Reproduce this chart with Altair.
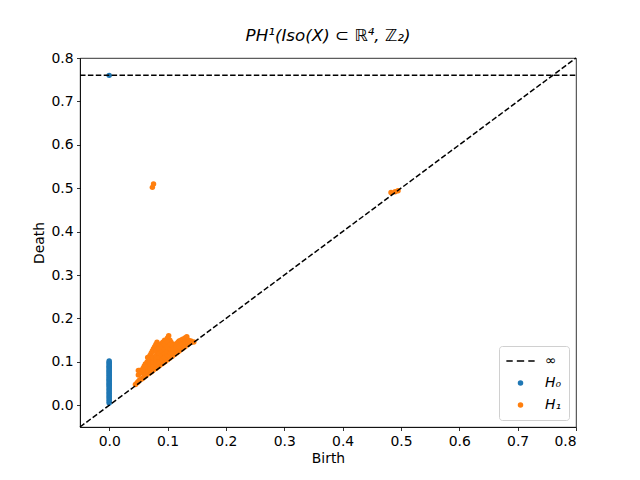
import altair as alt
import pandas as pd

# H0 persistence pairs
h0_birth = [0.0] * 32
h0_death = [0.005, 0.009, 0.013, 0.017, 0.020, 0.024, 0.028, 0.031, 0.035, 0.038,
            0.042, 0.045, 0.048, 0.051, 0.054, 0.057, 0.060, 0.063, 0.066, 0.069,
            0.072, 0.075, 0.078, 0.081, 0.084, 0.087, 0.090, 0.093, 0.096, 0.099,
            0.102, 0.760]

# H1 persistence pairs
h1_birth = [0.045, 0.048, 0.050, 0.052, 0.055, 0.058, 0.060, 0.063, 0.066, 0.070,
            0.073, 0.076, 0.080, 0.083, 0.086, 0.090, 0.093, 0.096, 0.100, 0.104,
            0.108, 0.112, 0.116, 0.120, 0.125, 0.130, 0.135, 0.140,
            0.050, 0.052, 0.055, 0.058, 0.060, 0.062, 0.065, 0.066, 0.068, 0.070,
            0.072, 0.074, 0.076, 0.078, 0.080, 0.082, 0.085, 0.088, 0.090, 0.092,
            0.095, 0.098, 0.100, 0.102, 0.104, 0.106, 0.110, 0.115, 0.118, 0.120,
            0.123, 0.126, 0.130, 0.133, 0.136, 0.140, 0.145,
            0.060, 0.065, 0.065, 0.070, 0.070, 0.070, 0.075, 0.075, 0.075, 0.080,
            0.080, 0.080, 0.080, 0.085, 0.085, 0.085, 0.085, 0.090, 0.090, 0.090,
            0.090, 0.095, 0.095, 0.095, 0.095, 0.100, 0.100, 0.100, 0.100, 0.105,
            0.105, 0.105, 0.110, 0.110, 0.115, 0.115, 0.120, 0.125, 0.130, 0.135,
            0.050, 0.054, 0.058, 0.062,
            0.074, 0.076, 0.483, 0.490, 0.495]
h1_death = [0.048, 0.052, 0.055, 0.058, 0.060, 0.063, 0.066, 0.068, 0.072, 0.075,
            0.078, 0.082, 0.085, 0.088, 0.091, 0.095, 0.098, 0.101, 0.105, 0.109,
            0.113, 0.117, 0.121, 0.125, 0.130, 0.135, 0.140, 0.145,
            0.070, 0.080, 0.075, 0.085, 0.090, 0.095, 0.100, 0.110, 0.105, 0.115,
            0.120, 0.125, 0.130, 0.135, 0.140, 0.145, 0.138, 0.140, 0.142, 0.145,
            0.150, 0.148, 0.155, 0.160, 0.150, 0.145, 0.140, 0.142, 0.145, 0.148,
            0.150, 0.152, 0.155, 0.158, 0.150, 0.148, 0.146,
            0.075, 0.080, 0.090, 0.085, 0.095, 0.105, 0.090, 0.100, 0.110, 0.095,
            0.105, 0.115, 0.125, 0.100, 0.110, 0.120, 0.130, 0.105, 0.115, 0.125,
            0.135, 0.110, 0.120, 0.130, 0.140, 0.115, 0.125, 0.135, 0.145, 0.120,
            0.130, 0.140, 0.125, 0.130, 0.130, 0.135, 0.135, 0.140, 0.145, 0.145,
            0.080, 0.078, 0.082, 0.088,
            0.502, 0.510, 0.490, 0.492, 0.494]

inf_value = [0.76]
diag_values = [-0.05, 0.8]
tick_values = [0.0, 0.1, 0.2, 0.3, 0.4, 0.5, 0.6, 0.7, 0.8]

series_names = ["∞", "H₀", "H₁"]
series_colors = ["black", "#1f77b4", "#ff7f0e"]

pts = pd.DataFrame({
    "birth": h0_birth + h1_birth,
    "death": h0_death + h1_death,
    "series": ["H₀"] * len(h0_birth) + ["H₁"] * len(h1_birth),
})
diag = pd.DataFrame({"b": diag_values, "d": diag_values})
inf_df = pd.DataFrame({"y": inf_value, "x1": [diag_values[0]], "x2": [diag_values[1]]})

FONT = "DejaVu Sans"
dom = [-0.05, 0.8]
xs = alt.Scale(domain=dom, nice=False, zero=False)
ys = alt.Scale(domain=dom, nice=False, zero=False)
xaxis = alt.Axis(values=tick_values, format=".1f", title="Birth")
yaxis = alt.Axis(values=tick_values, format=".1f", title="Death")

dash_path = ("M-1,-0.055H-0.55V0.055H-1Z M-0.26,-0.055H0.26V0.055H-0.26Z "
             "M0.55,-0.055H1V0.055H0.55Z")

leg = alt.Legend(title=None, orient="bottom-right", offset=7,
                 strokeColor="#d0d0d0", fillColor="white", cornerRadius=3,
                 padding=7, labelFont=FONT, labelFontSize=13.9,
                 labelFontStyle="italic", symbolStrokeWidth=0,
                 clipHeight=16, rowPadding=6, labelOffset=10)

points = alt.Chart(pts).mark_point(filled=True, opacity=1).encode(
    x=alt.X("birth:Q", scale=xs, axis=xaxis),
    y=alt.Y("death:Q", scale=ys, axis=yaxis),
    color=alt.Color("series:N", scale=alt.Scale(domain=series_names, range=series_colors), legend=leg),
    shape=alt.Shape("series:N", scale=alt.Scale(domain=series_names, range=[dash_path, "circle", "circle"]), legend=leg),
    size=alt.Size("series:N", scale=alt.Scale(type="ordinal", domain=series_names, range=[800, 30, 30]), legend=leg),
)

diag_line = alt.Chart(diag).mark_line(color="black", strokeDash=[5.5, 2.4], strokeWidth=1.5).encode(
    x=alt.X("b:Q", scale=xs), y=alt.Y("d:Q", scale=ys)
)

inf_line = alt.Chart(inf_df).mark_rule(color="black", strokeDash=[5.5, 2.4], strokeWidth=1.5).encode(
    x=alt.X("x1:Q", scale=xs), x2="x2:Q", y=alt.Y("y:Q", scale=ys)
)

chart = alt.layer(points, diag_line, inf_line).properties(
    width=496, height=369,
    background="white",
    title=alt.Title("PH¹(Iso(X) ⊂ ℝ⁴, ℤ₂)", font=FONT, fontSize=16.7,
                    fontWeight="normal", fontStyle="italic", offset=6, color="black"),
    autosize=alt.AutoSizeParams(type="none"),
    padding={"left": 72, "top": 50, "right": 56, "bottom": 45},
).configure_view(stroke="black", strokeWidth=0.8).configure_axis(
    grid=False, domainColor="black", domainWidth=0.8, tickColor="black",
    tickWidth=0.8, tickSize=3.5, labelPadding=3.5, labelColor="black",
    labelFont=FONT, labelFontSize=13.9, titleFont=FONT, titleFontSize=13.9,
    titleFontWeight="normal", titleColor="black", titlePadding=4,
)

chart.save("out.html", embed_options={"renderer": "svg", "actions": False})
